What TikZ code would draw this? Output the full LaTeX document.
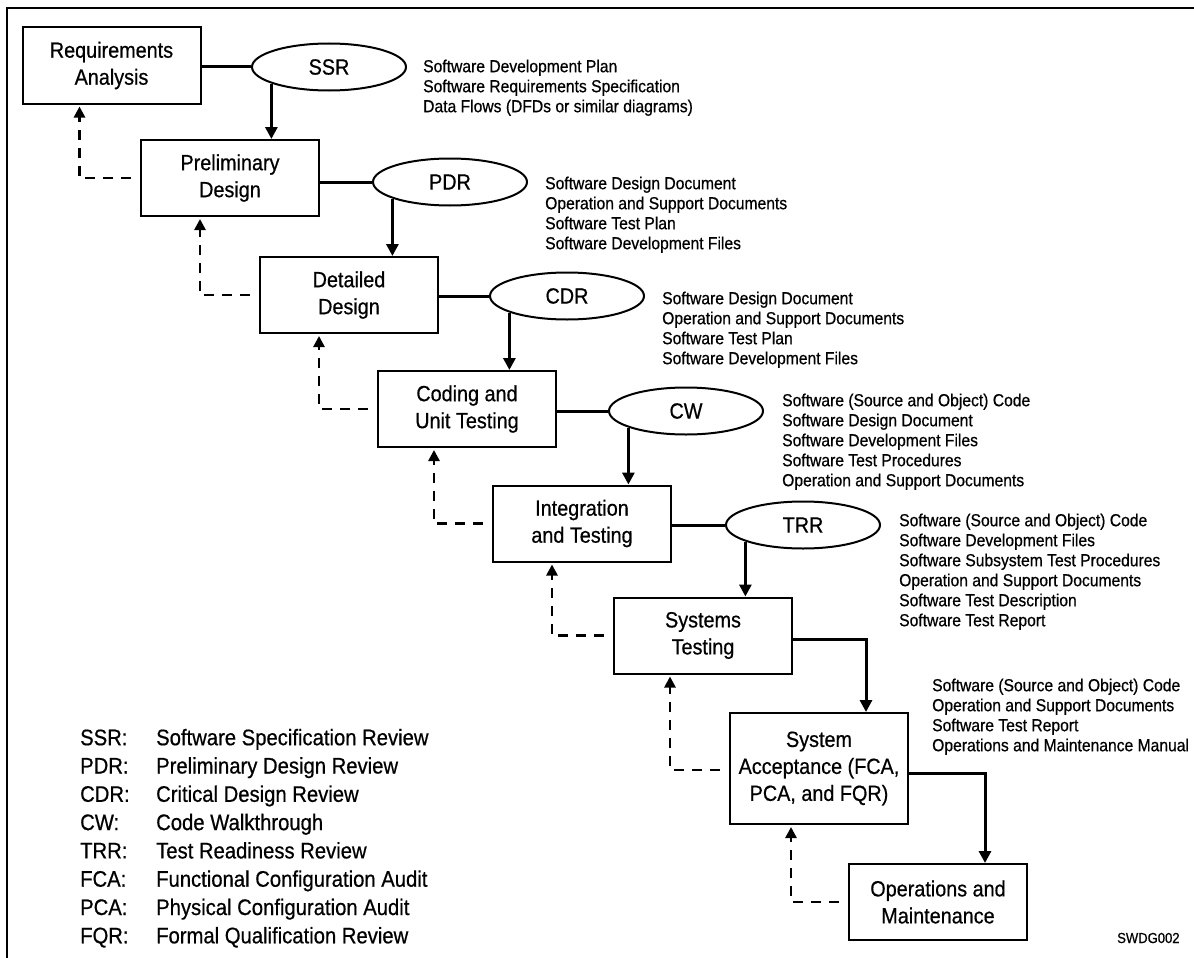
\documentclass[tikz,border=0pt]{standalone}
\usepackage{fontspec}
\setmainfont{Liberation Sans}[FakeStretch=0.9,FakeBold=0.6]
\usetikzlibrary{arrows.meta,shapes.geometric,calc}

\begin{document}
\begin{tikzpicture}[x=1pt,y=-1pt,
  phase/.style={draw,line width=2pt,minimum width=178pt,minimum height=76pt,
    inner sep=0pt,align=center,font=\fontsize{22}{27}\selectfont},
  review/.style={draw,ellipse,line width=2pt,minimum width=154pt,minimum height=47pt,
    inner sep=0pt,fill=white,font=\fontsize{22}{26}\selectfont},
  flow/.style={line width=3pt,-{Triangle[length=12pt,width=12pt]}},
  link/.style={line width=3pt},
  back/.style={line width=2.6pt,dash pattern=on 10pt off 8pt,shorten <=9pt,shorten >=2pt,
    -{Triangle[length=11pt,width=11pt]}},
  docs/.style={anchor=north west,inner sep=0pt,align=left,font=\fontsize{17.4}{20}\selectfont},
]
\useasboundingbox (0,0) rectangle (1194,958);

% outer frame
\draw[line width=2.2pt] (7,958) -- (7,8) -- (1194,8);

% life-cycle phases
\node[phase] (RA) at (111.5,65.5) {Requirements\\Analysis};
\node[phase] (PD) at (230,178) {Preliminary\\Design};
\node[phase] (DD) at (349,295) {Detailed\\Design};
\node[phase] (CU) at (467,409) {Coding and\\Unit Testing};
\node[phase] (IT) at (582,523.5) {Integration\\and Testing};
\node[phase] (ST) at (703,635.5) {Systems\\Testing};
\node[phase,minimum height=111pt] (SA) at (819,768.5) {System\\Acceptance (FCA,\\PCA, and FQR)};
\node[phase] (OM) at (938,902) {Operations and\\Maintenance};

% reviews
\node[review] (SSR) at (329,67) {SSR};
\node[review] (PDR) at (450,182) {PDR};
\node[review] (CDR) at (567,296) {CDR};
\node[review] (CW) at (686,411) {CW};
\node[review] (TRR) at (803,525) {TRR};

% phase to review links
\draw[link] (RA.east |- SSR.west) -- (SSR.west);
\draw[link] (PD.east |- PDR.west) -- (PDR.west);
\draw[link] (DD.east |- CDR.west) -- (CDR.west);
\draw[link] (CU.east |- CW.west) -- (CW.west);
\draw[link] (IT.east |- TRR.west) -- (TRR.west);

% review to next phase
\draw[flow] (SSR.196) -- (SSR.196 |- PD.north);
\draw[flow] (PDR.196) -- (PDR.196 |- DD.north);
\draw[flow] (CDR.196) -- (CDR.196 |- CU.north);
\draw[flow] (CW.196) -- (CW.196 |- IT.north);
\draw[flow] (TRR.196) -- (TRR.196 |- ST.north);
\draw[flow] ($(ST.east)+(0,3.5)$) -| ($(SA.north west)+(137,0)$);
\draw[flow] ($(SA.east)+(0,4.5)$) -| ($(OM.north west)+(137,0)$);

% feedback paths
\draw[back] (PD.west) -| ($(RA.south west)+(58,0)$);
\draw[back] (DD.west) -| ($(PD.south west)+(60,0)$);
\draw[back] (CU.west) -| ($(DD.south west)+(60,0)$);
\draw[back] (IT.west) -| ($(CU.south west)+(57,0)$);
\draw[back] (ST.west) -| ($(IT.south west)+(60,0)$);
\draw[back] ($(SA.west)+(0,1.5)$) -| ($(ST.south west)+(57,0)$);
\draw[back] (OM.west) -| ($(SA.south west)+(62,0)$);

% deliverables
\node[docs] (ssrdocs) at (423,55) {\rule{0pt}{17pt}Software Development Plan\\
  Software Requirements Specification\\Data Flows (DFDs or similar diagrams)};
\node[docs] (pdrdocs) at (545,172) {\rule{0pt}{17pt}Software Design Document\\
  Operation and Support Documents\\Software Test Plan\\Software Development Files};
\node[docs] (cdrdocs) at (662,287) {\rule{0pt}{17pt}Software Design Document\\
  Operation and Support Documents\\Software Test Plan\\Software Development Files};
\node[docs] (cwdocs) at (782,389) {\rule{0pt}{17pt}Software (Source and Object) Code\\
  Software Design Document\\Software Development Files\\Software Test Procedures\\
  Operation and Support Documents};
\node[docs] (trrdocs) at (899,509) {\rule{0pt}{17pt}Software (Source and Object) Code\\
  Software Development Files\\Software Subsystem Test Procedures\\
  Operation and Support Documents\\Software Test Description\\Software Test Report};
\node[docs] (sadocs) at (932,674) {\rule{0pt}{17pt}Software (Source and Object) Code\\
  Operation and Support Documents\\Software Test Report\\Operations and Maintenance Manual};

% abbreviations
\node[anchor=north west,inner sep=0pt,align=left,font=\fontsize{22.5}{28.3}\selectfont]
  (legend) at (80,723) {\rule{0pt}{22pt}\makebox[76pt][l]{SSR:}Software Specification Review\\
  \makebox[76pt][l]{PDR:}Preliminary Design Review\\
  \makebox[76pt][l]{CDR:}Critical Design Review\\
  \makebox[76pt][l]{CW:}Code Walkthrough\\
  \makebox[76pt][l]{TRR:}Test Readiness Review\\
  \makebox[76pt][l]{FCA:}Functional Configuration Audit\\
  \makebox[76pt][l]{PCA:}Physical Configuration Audit\\
  \makebox[76pt][l]{FQR:}Formal Qualification Review};

\node[anchor=base west,inner sep=0pt,font=\fontsize{14.5}{17}\selectfont] (code) at (1117,943) {SWDG002};
\end{tikzpicture}
\end{document}
